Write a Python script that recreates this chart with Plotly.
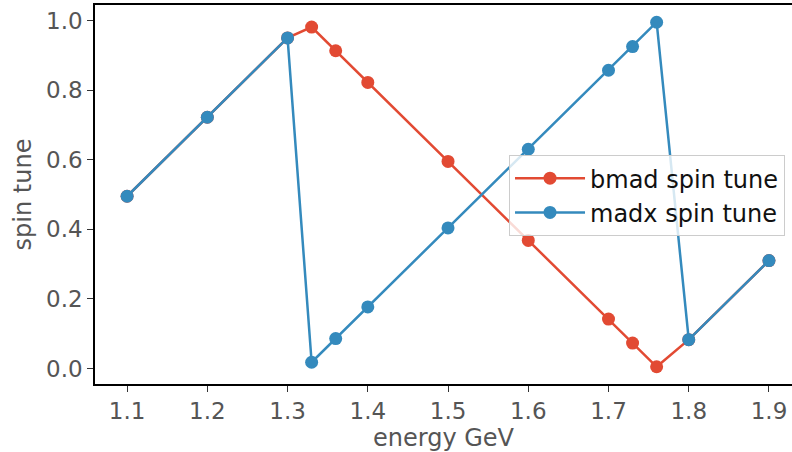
import plotly.graph_objects as go

energy = [1.1, 1.2, 1.3, 1.33, 1.36, 1.4, 1.5, 1.6, 1.7, 1.73, 1.76, 1.8, 1.9]
bmad_tune = [0.495, 0.722, 0.950, 0.981, 0.913, 0.822, 0.595, 0.368, 0.142, 0.073, 0.005, 0.083, 0.310]
madx_tune = [0.495, 0.722, 0.950, 0.018, 0.086, 0.177, 0.404, 0.630, 0.857, 0.925, 0.995, 0.083, 0.310]
x_ticks = [1.1, 1.2, 1.3, 1.4, 1.5, 1.6, 1.7, 1.8, 1.9]
y_ticks = [0.0, 0.2, 0.4, 0.6, 0.8, 1.0]

RED = "#E24A33"
BLUE = "#348ABD"
FONT = "DejaVu Sans"

fig = go.Figure()
fig.add_trace(go.Scatter(x=energy, y=bmad_tune, mode="lines+markers", name="bmad spin tune",
                         line=dict(color=RED, width=2.5), marker=dict(color=RED, size=13)))
fig.add_trace(go.Scatter(x=energy, y=madx_tune, mode="lines+markers", name="madx spin tune",
                         line=dict(color=BLUE, width=2.5), marker=dict(color=BLUE, size=13)))

fig.update_layout(
    width=792, height=452,
    margin=dict(l=95, r=0, t=5, b=68, autoexpand=False),
    paper_bgcolor="white", plot_bgcolor="white",
    font=dict(family=FONT, size=23, color="#555555"),
    legend=dict(x=0.594, y=0.604, xanchor="left", yanchor="top",
                bgcolor="rgba(255,255,255,0.8)", bordercolor="#cccccc", borderwidth=1,
                font=dict(family=FONT, size=24, color="#111111"),
                itemwidth=70, tracegroupgap=2),
    xaxis=dict(range=[1.06, 1.9287], tickvals=x_ticks, ticktext=[f"{v:.1f}" for v in x_ticks],
               showgrid=False, zeroline=False, showline=True, linecolor="black", linewidth=1.5,
               mirror=True, ticks="outside", ticklen=6, tickcolor="#333333", automargin=False,
               title=dict(text="energy GeV", standoff=8, font=dict(size=24, color="#555555"))),
    yaxis=dict(range=[-0.0445, 1.0445], tickvals=y_ticks, ticktext=[f"{v:.1f}" for v in y_ticks],
               showgrid=False, zeroline=False, showline=True, linecolor="black", linewidth=1.5,
               mirror=True, ticks="outside", ticklen=6, tickcolor="#333333", automargin=False,
               title=dict(text="spin tune", standoff=8, font=dict(size=24, color="#555555"))),
)

fig.write_html("out.html", config={"displayModeBar": False},
               post_script="document.body.style.margin='0';document.body.style.padding='0';")
